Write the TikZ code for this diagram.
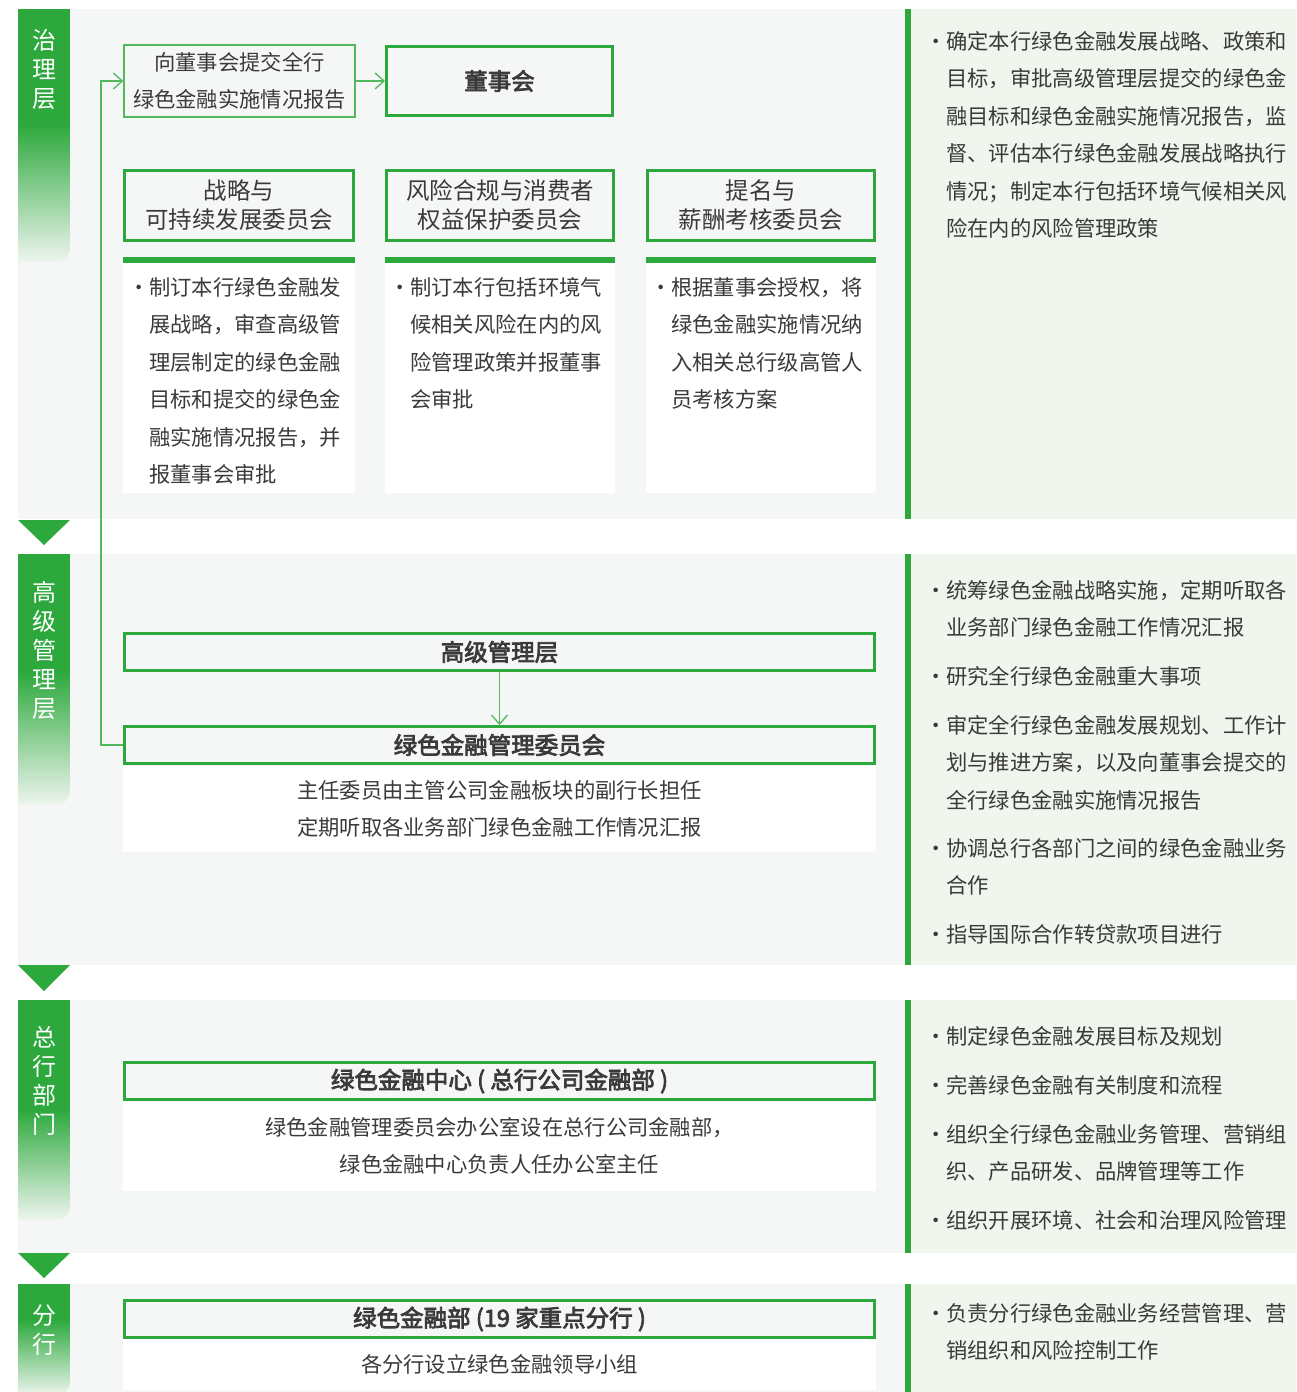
\documentclass[tikz,border=0pt]{standalone}
\usepackage{fontspec}
\setmainfont{Noto Sans CJK SC}[AutoFakeBold=3.2]
\usetikzlibrary{arrows.meta}

\definecolor{zlgreen}{HTML}{2CA83C}
\definecolor{zllight}{HTML}{52B95F}
\definecolor{zlbg}{HTML}{F5F7F6}
\definecolor{zlpanel}{HTML}{F0F5EE}
\definecolor{zlfade}{HTML}{EEF5EF}
\definecolor{zltext}{HTML}{3A3A3A}

\begin{document}
\begin{tikzpicture}[
            x=1pt, y=-1pt, % pixel coordinates, y grows downwards
            every node/.style={text=zltext, inner sep=0pt},
            bodyfont/.style={font=\fontsize{21.3}{37.5}\selectfont},
            sidetag/.style={text=white, align=center, font=\fontsize{24}{29}\selectfont},
            headbox/.style={draw=zlgreen, line width=3pt, fill=zlbg, align=center, font=\fontsize{23.5}{28}\selectfont\bfseries},
            combox/.style={draw=zlgreen, line width=3pt, fill=zlbg, align=center, font=\fontsize{23.5}{29}\selectfont},
            thinbox/.style={draw=zllight, line width=1.4pt, fill=zlbg, align=center, bodyfont},
            descbox/.style={fill=white, align=center, bodyfont},
            rtext/.style={bodyfont, anchor=north west, align=left},
            flow/.style={draw=zllight, line width=1.3pt, -{Straight Barb[length=9pt, width=16pt]}}
        ]
            \useasboundingbox (0,0) rectangle (1296,1392);

            % 1. Section backgrounds, right panels and dividing green lines
            \fill[zlbg] (18,9) rectangle (905,519);
            \fill[zlbg] (18,554) rectangle (905,965);
            \fill[zlbg] (18,1000) rectangle (905,1253);
            \fill[zlbg] (18,1284) rectangle (905,1392);
            \fill[zlpanel] (911,9) rectangle (1296,519);
            \fill[zlpanel] (911,554) rectangle (1296,965);
            \fill[zlpanel] (911,1000) rectangle (1296,1253);
            \fill[zlpanel] (911,1284) rectangle (1296,1392);
            \fill[zlgreen] (905,9) rectangle (911,519);
            \fill[zlgreen] (905,554) rectangle (911,965);
            \fill[zlgreen] (905,1000) rectangle (911,1253);
            \fill[zlgreen] (905,1284) rectangle (911,1392);

            % 2. Left tags (solid green fading out) and the triangles between them
            \begin{scope}
                \clip[rounded corners=14pt] (0,-20) rectangle (70,262);
                \fill[zlgreen] (18,9) rectangle (70,125);
                \shade[top color=zlgreen, bottom color=zlfade] (18,124) rectangle (70,262);
            \end{scope}
            \begin{scope}
                \clip[rounded corners=14pt] (0,530) rectangle (70,805);
                \fill[zlgreen] (18,554) rectangle (70,672);
                \shade[top color=zlgreen, bottom color=zlfade] (18,671) rectangle (70,805);
            \end{scope}
            \begin{scope}
                \clip[rounded corners=14pt] (0,980) rectangle (70,1220);
                \fill[zlgreen] (18,1000) rectangle (70,1110);
                \shade[top color=zlgreen, bottom color=zlfade] (18,1109) rectangle (70,1220);
            \end{scope}
            \begin{scope}
                \clip[rounded corners=14pt] (0,1270) rectangle (70,1396);
                \fill[zlgreen] (18,1284) rectangle (70,1320);
                \shade[top color=zlgreen, bottom color=zlfade] (18,1319) rectangle (70,1396);
            \end{scope}
            \fill[zlgreen] (18,520) -- (70,520) -- (44,545) -- cycle;
            \fill[zlgreen] (18,965) -- (70,965) -- (44,991) -- cycle;
            \fill[zlgreen] (18,1253) -- (70,1253) -- (44,1278) -- cycle;

            \node[sidetag] (tag1) at (44,69) {治\\理\\层};
            \node[sidetag] (tag2) at (44,650) {高\\级\\管\\理\\层};
            \node[sidetag] (tag3) at (44,1081) {总\\行\\部\\门};
            \node[sidetag] (tag4) at (44,1330) {分\\行};

            % 3. Governance level: report, board, committees
            \node[thinbox, minimum width=231, minimum height=72] (report) at (239.5,81) {向董事会提交全行\\绿色金融实施情况报告};
            \node[headbox, minimum width=226, minimum height=69] (board) at (499.5,81) {董事会};

            \node[combox, minimum width=229, minimum height=70] (strat) at (239,205) {战略与\\可持续发展委员会};
            \node[combox, minimum width=227, minimum height=70] (risk) at (500,205) {风险合规与消费者\\权益保护委员会};
            \node[combox, minimum width=227, minimum height=70] (nomin) at (761,205) {提名与\\薪酬考核委员会};

            % white duty cards with a green top bar
            \fill[white] (123,257) rectangle (355,493);
            \fill[white] (385,257) rectangle (615,493);
            \fill[white] (646,257) rectangle (876,493);
            \fill[zlgreen] (123,257) rectangle (355,263);
            \fill[zlgreen] (385,257) rectangle (615,263);
            \fill[zlgreen] (646,257) rectangle (876,263);

            \node[rtext] (stratduty) at (149,277) {\llap{·\hspace{-1pt}}制订本行绿色金融发\\展战略，审查高级管\\理层制定的绿色金融\\目标和提交的绿色金\\融实施情况报告，并\\报董事会审批};
            \node[rtext] (riskduty) at (410,277) {\llap{·\hspace{-1pt}}制订本行包括环境气\\候相关风险在内的风\\险管理政策并报董事\\会审批};
            \node[rtext] (nominduty) at (671,277) {\llap{·\hspace{-1pt}}根据董事会授权，将\\绿色金融实施情况纳\\入相关总行级高管人\\员考核方案};

            \node[rtext] (boardduty) at (946,31) {\llap{·\hspace{-1pt}}确定本行绿色金融发展战略、政策和\\目标，审批高级管理层提交的绿色金\\融目标和绿色金融实施情况报告，监\\督、评估本行绿色金融发展战略执行\\情况；制定本行包括环境气候相关风\\险在内的风险管理政策};

            % 4. Senior management
            \node[headbox, minimum width=750, minimum height=37] (senior) at (499.5,652) {高级管理层};
            \node[headbox, minimum width=750, minimum height=37] (gfc) at (499.5,745) {绿色金融管理委员会};
            \node[descbox, minimum width=753, minimum height=86] (gfcdesc) at (499.5,809) {主任委员由主管公司金融板块的副行长担任\\定期听取各业务部门绿色金融工作情况汇报};

            \node[rtext] (senior1) at (946,580) {\llap{·\hspace{-1pt}}统筹绿色金融战略实施，定期听取各\\业务部门绿色金融工作情况汇报};
            \node[rtext] (senior2) at (946,666) {\llap{·\hspace{-1pt}}研究全行绿色金融重大事项};
            \node[rtext] (senior3) at (946,715) {\llap{·\hspace{-1pt}}审定全行绿色金融发展规划、工作计\\划与推进方案，以及向董事会提交的\\全行绿色金融实施情况报告};
            \node[rtext] (senior4) at (946,838) {\llap{·\hspace{-1pt}}协调总行各部门之间的绿色金融业务\\合作};
            \node[rtext] (senior5) at (946,924) {\llap{·\hspace{-1pt}}指导国际合作转贷款项目进行};

            % 5. Head office department
            \node[headbox, minimum width=750, minimum height=37] (center) at (499.5,1081) {绿色金融中心 ( 总行公司金融部 )};
            \node[descbox, minimum width=753, minimum height=90] (centerdesc) at (499.5,1146) {绿色金融管理委员会办公室设在总行公司金融部，\\绿色金融中心负责人任办公室主任};

            \node[rtext] (dept1) at (946,1026) {\llap{·\hspace{-1pt}}制定绿色金融发展目标及规划};
            \node[rtext] (dept2) at (946,1075) {\llap{·\hspace{-1pt}}完善绿色金融有关制度和流程};
            \node[rtext] (dept3) at (946,1124) {\llap{·\hspace{-1pt}}组织全行绿色金融业务管理、营销组\\织、产品研发、品牌管理等工作};
            \node[rtext] (dept4) at (946,1210) {\llap{·\hspace{-1pt}}组织开展环境、社会和治理风险管理};

            % 6. Branches
            \node[headbox, minimum width=750, minimum height=37] (branch) at (499.5,1319) {绿色金融部 (19 家重点分行 )};
            \node[descbox, minimum width=753, minimum height=51] (branchdesc) at (499.5,1364.5) {各分行设立绿色金融领导小组};

            \node[rtext] (branch1) at (946,1303) {\llap{·\hspace{-1pt}}负责分行绿色金融业务经营管理、营\\销组织和风险控制工作};

            % 7. Connectors
            \draw[flow] (report.east) -- (board.west);
            \draw[flow] (senior.south) -- (gfc.north);
            \draw[flow] (gfc.west) -- ++(-22,0) |- (report.west);

        \end{tikzpicture}
\end{document}
